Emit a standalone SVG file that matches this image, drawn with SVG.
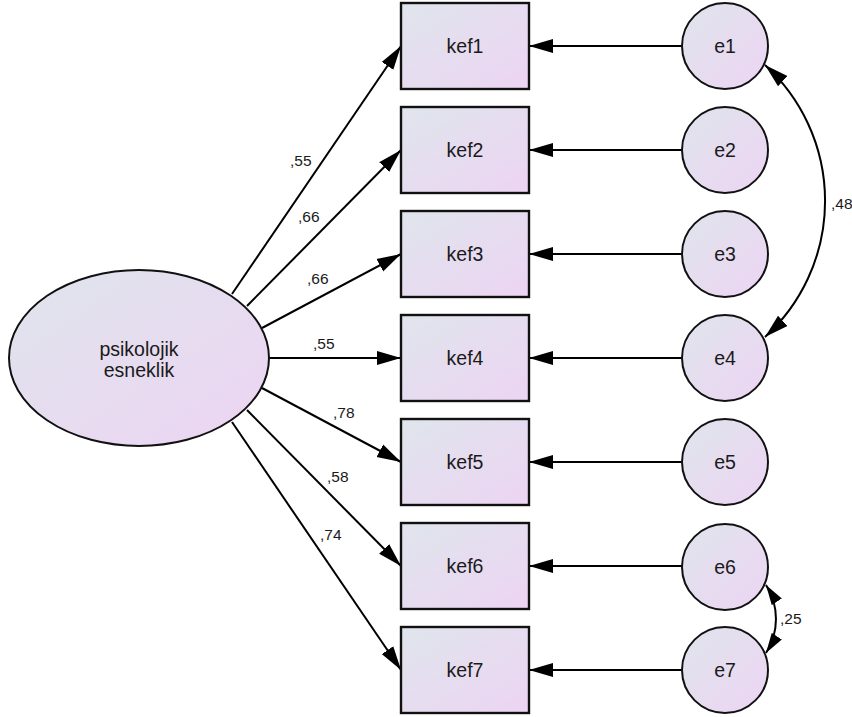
<svg xmlns="http://www.w3.org/2000/svg" width="852" height="717" viewBox="0 0 852 717">
<defs>
<linearGradient id="g" x1="0" y1="0" x2="1" y2="1">
<stop offset="0" stop-color="#dfe5ec"/>
<stop offset="1" stop-color="#edd4f3"/>
</linearGradient>
<marker id="ah" markerUnits="userSpaceOnUse" markerWidth="26" markerHeight="16" viewBox="0 0 26 16" refX="24" refY="8" orient="auto-start-reverse">
<path d="M0,1 L24,8 L0,15 z" fill="#000"/>
</marker>
<marker id="ahs" markerUnits="userSpaceOnUse" markerWidth="22" markerHeight="14" viewBox="0 0 22 14" refX="20" refY="7" orient="auto-start-reverse">
<path d="M0,1 L20,7 L0,13 z" fill="#000"/>
</marker>
</defs>
<style>
.box{fill:url(#g);stroke:#111;stroke-width:2.4}
.nd{fill:url(#g);stroke:#111;stroke-width:2}
.t{font-family:"Liberation Sans",Arial,sans-serif;font-size:19.5px;fill:#1a1a1a;text-anchor:middle}
.l{font-family:"Liberation Sans",Arial,sans-serif;font-size:15.5px;fill:#1a1a1a}
.c{stroke:#000;stroke-width:2;fill:none;marker-end:url(#ah)}
.cc{stroke:#000;stroke-width:2;fill:none;marker-start:url(#ah);marker-end:url(#ah)}
.cs{stroke:#000;stroke-width:2;fill:none;marker-start:url(#ahs);marker-end:url(#ahs)}
</style>
<g id="connectors">
<line class="c" x1="232" y1="294" x2="401" y2="46"/>
<line class="c" x1="247" y1="306" x2="401" y2="150"/>
<line class="c" x1="262" y1="328" x2="401" y2="254"/>
<line class="c" x1="268" y1="358" x2="401" y2="358"/>
<line class="c" x1="262" y1="388" x2="401" y2="462"/>
<line class="c" x1="247" y1="410" x2="401" y2="566"/>
<line class="c" x1="232" y1="422" x2="401" y2="670"/>
<line class="c" x1="682" y1="46" x2="529" y2="46"/>
<line class="c" x1="682" y1="150" x2="529" y2="150"/>
<line class="c" x1="682" y1="254" x2="529" y2="254"/>
<line class="c" x1="682" y1="358" x2="529" y2="358"/>
<line class="c" x1="682" y1="462" x2="529" y2="462"/>
<line class="c" x1="682" y1="566" x2="529" y2="566"/>
<line class="c" x1="682" y1="670" x2="529" y2="670"/>
<path class="cc" d="M765,65 A184,184 0 0 1 765,337"/>
<path class="cs" d="M766,585 A63,63 0 0 1 766,653"/>
<text class="l" x="290" y="166">,55</text>
<text class="l" x="298" y="222">,66</text>
<text class="l" x="307" y="284">,66</text>
<text class="l" x="313" y="349">,55</text>
<text class="l" x="333" y="418">,78</text>
<text class="l" x="327" y="482">,58</text>
<text class="l" x="320" y="540">,74</text>
<text class="l" x="831" y="209">,48</text>
<text class="l" x="780" y="624">,25</text>
</g>
<g id="psikolojik"><ellipse class="nd" cx="139" cy="358" rx="130" ry="88"/><text class="t" x="139" y="356">psikolojik</text><text class="t" x="139" y="377">esneklik</text></g>
<g id="kef1"><rect class="box" x="401" y="3" width="128" height="86"/><text class="t" x="465" y="53">kef1</text></g>
<g id="kef2"><rect class="box" x="401" y="107" width="128" height="86"/><text class="t" x="465" y="157">kef2</text></g>
<g id="kef3"><rect class="box" x="401" y="211" width="128" height="86"/><text class="t" x="465" y="261">kef3</text></g>
<g id="kef4"><rect class="box" x="401" y="315" width="128" height="86"/><text class="t" x="465" y="365">kef4</text></g>
<g id="kef5"><rect class="box" x="401" y="419" width="128" height="86"/><text class="t" x="465" y="469">kef5</text></g>
<g id="kef6"><rect class="box" x="401" y="523" width="128" height="86"/><text class="t" x="465" y="573">kef6</text></g>
<g id="kef7"><rect class="box" x="401" y="627" width="128" height="86"/><text class="t" x="465" y="677">kef7</text></g>
<g id="e1"><circle class="nd" cx="725" cy="46" r="43"/><text class="t" x="725" y="53">e1</text></g>
<g id="e2"><circle class="nd" cx="725" cy="150" r="43"/><text class="t" x="725" y="157">e2</text></g>
<g id="e3"><circle class="nd" cx="725" cy="254" r="43"/><text class="t" x="725" y="261">e3</text></g>
<g id="e4"><circle class="nd" cx="725" cy="358" r="43"/><text class="t" x="725" y="365">e4</text></g>
<g id="e5"><circle class="nd" cx="725" cy="462" r="43"/><text class="t" x="725" y="469">e5</text></g>
<g id="e6"><circle class="nd" cx="725" cy="567" r="43"/><text class="t" x="725" y="574">e6</text></g>
<g id="e7"><circle class="nd" cx="725" cy="670" r="43"/><text class="t" x="725" y="677">e7</text></g>
</svg>
